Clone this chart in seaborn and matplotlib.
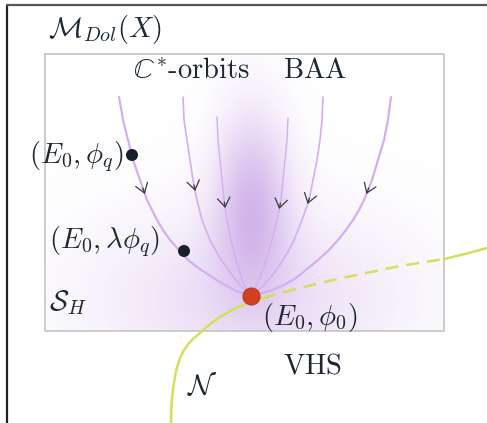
import numpy as np
import pandas as pd
import matplotlib
matplotlib.use("Agg")
import matplotlib.pyplot as plt
import seaborn as sns

# ---- data (pixel coordinates, y downwards) ----
orbit_left_outer_x = [119, 121, 123, 125.5, 128, 130.5, 133, 136.5, 140, 143.5, 147, 152, 157, 163, 170, 179, 188, 197, 206, 215, 225, 236, 248]
orbit_left_outer_y = [97, 108, 120, 130, 140, 150, 160, 170, 180, 190, 200, 210, 220, 230, 240, 250, 260, 267, 273, 279, 285, 291, 295]
orbit_left_mid_x = [183, 183.5, 184, 185.5, 187, 188.5, 190, 191.5, 193, 195, 197, 199.5, 202, 206, 210, 215, 220, 225, 230, 235, 240, 245, 250]
orbit_left_mid_y = [97, 108, 120, 130, 140, 150, 160, 170, 180, 190, 200, 210, 220, 230, 240, 249, 258, 265, 272, 279, 285, 290, 295]
orbit_left_in_x = [217, 218, 219, 220, 221, 222, 223, 224, 225.5, 227, 229, 231, 233.5, 236, 239, 242, 246, 250]
orbit_left_in_y = [117, 140, 150, 160, 170, 180, 190, 200, 210, 220, 230, 240, 250, 260, 270, 280, 288, 295]
orbit_right_in_x = [288, 287, 286, 285, 284, 283, 282, 281, 279, 277, 274.5, 272, 269, 266, 262.5, 259, 255.5, 252]
orbit_right_in_y = [118, 140, 150, 160, 170, 180, 190, 200, 210, 220, 230, 240, 250, 260, 270, 280, 288, 295]
orbit_right_mid_x = [323, 322.5, 322, 321, 320, 318.5, 317, 315, 313, 311, 309, 305.5, 302, 298, 294, 289, 283, 277, 270, 262, 254]
orbit_right_mid_y = [97, 108, 120, 130, 140, 150, 160, 170, 180, 190, 200, 210, 220, 230, 240, 250, 260, 269, 278, 287, 294]
orbit_right_outer_x = [391, 389.5, 388, 386, 384, 381, 378, 375, 372, 368, 364, 359, 353, 346, 338, 329, 318, 307, 296, 284, 272, 262, 252]
orbit_right_outer_y = [97, 108, 120, 130, 140, 150, 160, 170, 180, 190, 200, 210, 220, 230, 240, 250, 260, 269, 278, 285, 290, 293, 295]

arrow_y = [194, 191, 208, 209, 204, 194]  # chevron position on each orbit

nilp_solid_x = [171, 171.3, 172, 173.5, 176, 180, 184, 189, 194, 200, 206, 213, 220, 227, 234, 240, 246, 252, 257, 263]
nilp_solid_y = [423, 410, 398, 386, 371, 358, 350, 343, 338, 333, 327.5, 322, 317, 313, 309, 306, 304, 302, 300, 298]
vhs_dash_x = [263, 277, 300, 333, 366, 400, 444]
vhs_dash_y = [298, 294, 288, 280, 273, 266, 259]
vhs_tail_x = [444, 465, 487]
vhs_tail_y = [259, 254, 248]

black_pts_x = [132, 184]
black_pts_y = [155, 251]
fixed_pt_x = [251]
fixed_pt_y = [296]

labels = [r"$\mathcal{M}_{Dol}(X)$", r"$\mathbb{C}^{*}\mathrm{\text{-}orbits}$", r"$\mathrm{BAA}$",
          r"$(E_0,\phi_q)$", r"$(E_0,\lambda\phi_q)$", r"$\mathcal{S}_H$",
          r"$(E_0,\phi_0)$", r"$\mathrm{VHS}$", r"$\mathcal{N}$"]
label_x = [48, 133, 283, 29, 49, 49, 262, 283, 187]
label_y = [29, 70, 70, 157, 242, 303, 318, 366, 387]

# ---- drawing ----
sns.set_style("white")
plt.rcParams["mathtext.fontset"] = "cm"
fig = plt.figure(figsize=(4.87, 4.23), dpi=100)
ax = fig.add_axes([0, 0, 1, 1])
ax.set_xlim(0, 487)
ax.set_ylim(423, 0)
ax.axis("off")

# outer frame (left & top)
ax.plot([7, 7], [5, 423], color="#222222", lw=1.6, solid_capstyle="butt")
ax.plot([6, 487], [5.5, 5.5], color="#555555", lw=1.6, solid_capstyle="butt")

# inner rectangle
rx0, rx1, ry0, ry1 = 45, 444, 54, 331
ax.plot([rx0, rx1, rx1, rx0, rx0], [ry0, ry0, ry1, ry1, ry0], color="#c4c4c4", lw=1.2, zorder=3)

# purple glow inside the rectangle
gx = np.linspace(rx0, rx1, 400)
gy = np.linspace(ry0, ry1, 280)
GX, GY = np.meshgrid(gx, gy)
core = 0.44 * np.exp(-((GX - 252) / 38) ** 2 - ((GY - 200) / 90) ** 2)
broad = 0.24 * np.exp(-((GX - 250) / 155) ** 2 - ((GY - 300) / 90) ** 2)
alpha = np.clip(core + broad, 0, 0.6)
rgba = np.zeros(GX.shape + (4,))
rgba[..., 0] = 0.66
rgba[..., 1] = 0.44
rgba[..., 2] = 0.84
rgba[..., 3] = alpha
ax.imshow(rgba, extent=(rx0, rx1, ry1, ry0), origin="upper", aspect="auto", zorder=1,
          interpolation="bilinear")

orbits = [
    (orbit_left_outer_x, orbit_left_outer_y, 1.6),
    (orbit_left_mid_x, orbit_left_mid_y, 1.2),
    (orbit_left_in_x, orbit_left_in_y, 1.0),
    (orbit_right_in_x, orbit_right_in_y, 1.0),
    (orbit_right_mid_x, orbit_right_mid_y, 1.2),
    (orbit_right_outer_x, orbit_right_outer_y, 1.6),
]
purple = "#d4aef0"
for (xs, ys, lw), ay in zip(orbits, arrow_y):
    df = pd.DataFrame({"x": xs, "y": ys})
    sns.lineplot(data=df, x="x", y="y", sort=False, estimator=None, color=purple,
                 lw=lw, ax=ax, zorder=4)
    line = ax.lines[-1]
    line.set_solid_joinstyle("round")
    tip_x = np.interp(ay, ys, xs)
    tail_x = np.interp(ay - 6, ys, xs)
    ax.annotate("", xy=(tip_x, ay), xytext=(tail_x, ay - 6),
                arrowprops=dict(arrowstyle="->,head_length=0.65,head_width=0.45",
                                color="#3a3a3a", lw=0.9, shrinkA=0, shrinkB=0),
                zorder=6)

yellow = "#d6de5a"
sns.lineplot(x=nilp_solid_x, y=nilp_solid_y, sort=False, estimator=None, color=yellow,
             lw=1.8, ax=ax, zorder=4)
sns.lineplot(x=vhs_dash_x, y=vhs_dash_y, sort=False, estimator=None, color=yellow,
             lw=1.8, ax=ax, zorder=4, linestyle=(0, (5.2, 3.2)))
sns.lineplot(x=vhs_tail_x, y=vhs_tail_y, sort=False, estimator=None, color=yellow,
             lw=1.8, ax=ax, zorder=4)

sns.scatterplot(x=black_pts_x, y=black_pts_y, color="#17202a", s=75, edgecolor="none",
                ax=ax, zorder=7)
sns.scatterplot(x=fixed_pt_x, y=fixed_pt_y, color="#d2401e", s=150, edgecolor="#b83a26",
                linewidth=0.8, ax=ax, zorder=7)

for t, x, y in zip(labels, label_x, label_y):
    ax.text(x, y, t, fontsize=20.5, color="#1c2833", ha="left", va="center", zorder=8)

fig.savefig("out.png", dpi=100)
